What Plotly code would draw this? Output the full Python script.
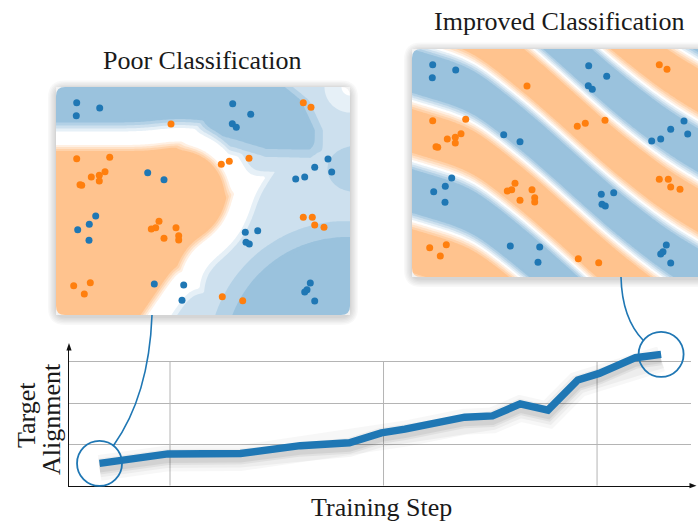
import numpy as np
import plotly.graph_objects as go

W, H = 698, 521

# ---- training curve ------------------------------------------------------
steps = [17, 44, 49, 83, 111, 134, 149, 160, 188, 201, 214, 227, 241, 251, 268, 280]
alignment = [0.54, 0.74, 0.77, 0.78, 0.97, 1.04, 1.28, 1.37, 1.66, 1.69,
             1.98, 1.83, 2.56, 2.72, 3.10, 3.18]

# ---- labelled samples shown in both decision-boundary panels ------------
blue_f1 = [20.7, 20.3, 43.7, 176.7, 194.7, 176.3, 180.3, 91.7, 108.0, 239.7,
           248.7, 258.7, 272.0, 275.7, 39.7, 33.3, 21.7, 33.0, 98.3, 127.7,
           126.0, 201.7, 189.3, 190.0, 193.3, 254.3, 251.0, 248.7, 258.7]
blue_f2 = [15.7, 28.7, 21.0, 16.7, 27.3, 36.7, 40.3, 85.7, 92.7, 92.0,
           90.0, 80.3, 72.0, 85.0, 129.0, 137.3, 142.7, 153.3, 197.0, 198.0,
           213.3, 143.7, 145.3, 155.3, 157.0, 196.0, 202.7, 205.0, 214.0]
orange_f1 = [247.3, 255.0, 115.0, 20.7, 53.7, 35.3, 43.3, 49.0, 43.3, 24.0,
             25.7, 165.3, 173.3, 193.0, 103.0, 99.7, 95.3, 120.0, 122.7, 122.7,
             108.0, 17.7, 34.3, 28.3, 247.3, 256.3, 258.7, 268.0, 166.3, 186.7]
orange_f2 = [15.7, 20.3, 37.0, 71.7, 70.3, 90.0, 88.3, 84.7, 94.0, 97.7,
             98.3, 77.3, 74.3, 71.3, 134.3, 140.7, 142.0, 140.7, 148.7, 153.0,
             151.3, 198.7, 195.7, 207.0, 130.3, 130.3, 138.0, 140.3, 209.7, 213.7]

F1_MAX, F2_MAX = 294.0, 228.0

# ---- page geometry (pixels) ---------------------------------------------
PLOT_L, PLOT_R, PLOT_T, PLOT_B = 69.0, 691.0, 347.0, 485.7
STEP_RANGE = [2.7, 294.0]
ALIGN_RANGE = [0.0, (PLOT_B - PLOT_T) / 41.3]
P1 = (56.0, 87.0)     # top-left corner of the "poor" panel
P2 = (412.0, 49.0)    # top-left corner of the "improved" panel
PW, PH = 294.0, 228.0
RAD = 9.0

BLUE = "#1f77b4"
ORANGE = "#ff7f0e"
SERIF = "Liberation Serif, DejaVu Serif, serif"


def pp(px, py):
    return px / W, 1 - py / H


def pstr(px, py):
    x, y = pp(px, py)
    return f"{x:.5f},{y:.5f}"


def step_px(s):
    return PLOT_L + (s - STEP_RANGE[0]) / (STEP_RANGE[1] - STEP_RANGE[0]) * (PLOT_R - PLOT_L)


def align_py(a):
    return PLOT_B - (a - ALIGN_RANGE[0]) / (ALIGN_RANGE[1] - ALIGN_RANGE[0]) * (PLOT_B - PLOT_T)


def rrect(x0, y0, x1, y1, r):
    return ("M" + pstr(x0 + r, y0) + " L" + pstr(x1 - r, y0) +
            " Q" + pstr(x1, y0) + " " + pstr(x1, y0 + r) +
            " L" + pstr(x1, y1 - r) + " Q" + pstr(x1, y1) + " " + pstr(x1 - r, y1) +
            " L" + pstr(x0 + r, y1) + " Q" + pstr(x0, y1) + " " + pstr(x0, y1 - r) +
            " L" + pstr(x0, y0 + r) + " Q" + pstr(x0, y0) + " " + pstr(x0 + r, y0) + " Z")


# ---- decision functions on a feature grid --------------------------------
gx = np.linspace(0, F1_MAX, 148)
gy = np.linspace(0, F2_MAX, 116)
X, Y = np.meshgrid(gx, gy)


def sig(t):
    return 1.0 / (1.0 + np.exp(-t))


def smooth_min(parts, k):
    stack = np.stack([-p / k for p in parts])
    m = stack.max(axis=0)
    return -k * (m + np.log(np.exp(stack - m).sum(axis=0)))


# poorly aligned kernel: one broad orange lobe (distance D to its edge),
# blue pockets elsewhere
d_box = np.maximum.reduce([57.0 - Y, X - 124.0, Y - 182.0])
d_round = np.hypot(X - 124.0, Y - 108.0) - 51.0
d_wedge = np.maximum(0.826 * (X - 175.0) + 0.564 * (Y - 108.0), 108.0 - Y)
D = smooth_min([d_box, d_round, d_wedge], 5.0)

top_edge = np.interp(X, [0, 144, 180, 210, 254, 262, 294], [45, 45, 55, 64, 65, 60, 60])
right_edge = np.interp(Y, [0, 13, 43, 65, 228], [231, 247, 261, 261, 261])
lobe = sig((top_edge - Y) / 2.5) * sig((right_edge - X) / 2.5)
lobe_halo = sig((top_edge + 10 - Y) / 2.5) * sig((right_edge + 10 - X) / 2.5)
rb = np.hypot(X - 290, Y - 272)
pocket = sig((124 - rb) / 2.5)
pocket_halo = sig((142 - rb) / 2.5)
side = sig((1 - ((X - 300) / 32) ** 2 - ((Y - 82) / 26) ** 2) * 8)
fade = np.clip(np.hypot(X - F1_MAX, Y) / 34.0, 0, 1)
strong = np.maximum.reduce([lobe, 0.6 * lobe_halo * fade, pocket, 0.6 * pocket_halo, 0.6 * side])
fast = np.clip((D - 11) / 15, 0, 1)
slow = np.clip((D - 16) / 24, 0, 1)
blue_side = np.maximum(np.minimum(strong, fast), np.minimum(0.4 * fade, slow))
z_poor = np.where(D < 0, -np.clip(-D / 10, 0, 1), blue_side)

# trained kernel: alternating diagonal bands
ridge_x = [0, 60, 120, 200, 255, 294]
ridge_y = [22, 40, 88, 160, 203, 226]
ridge = np.interp(gx, ridge_x, ridge_y)
ker = np.exp(-0.5 * (np.arange(-20, 21) * 2.0 / 16.0) ** 2)
ker /= ker.sum()
ridge = np.convolve(np.pad(ridge, 20, mode="reflect", reflect_type="odd"), ker, mode="valid")
z_good = np.clip(1.7 * np.cos(2 * np.pi * (Y - ridge[None, :]) / 120.0), -1, 1)


def tint(rgb, a):
    return "rgb(%d,%d,%d)" % tuple(round(255 - a * (255 - c)) for c in rgb)


cscale = []
for v in np.linspace(-1, 1, 11):
    if v < 0:
        cscale.append([(v + 1) / 2, tint((255, 127, 14), 0.47 * min(1.0, -v / 0.8))])
    else:
        cscale.append([(v + 1) / 2, tint((31, 119, 180), 0.45 * min(1.0, v / 0.8))])

fig = go.Figure()

# soft shadow under the curve
for w, a in [(26, 0.03), (19, 0.04), (13, 0.05), (9, 0.06)]:
    fig.add_trace(go.Scatter(x=steps, y=[v - 0.11 for v in alignment], mode="lines",
                             line=dict(color=f"rgba(0,0,0,{a})", width=w),
                             hoverinfo="skip", xaxis="x", yaxis="y"))
fig.add_trace(go.Scatter(x=steps, y=alignment, mode="lines",
                         line=dict(color=BLUE, width=7.5), xaxis="x", yaxis="y"))

for z, xa, ya in [(z_poor, "x2", "y2"), (z_good, "x3", "y3")]:
    fig.add_trace(go.Contour(x=gx, y=gy, z=z, xaxis=xa, yaxis=ya, colorscale=cscale,
                             autocontour=False, showscale=False, hoverinfo="skip",
                             contours=dict(start=-0.9, end=0.9, size=0.2,
                                           coloring="fill", showlines=False),
                             line=dict(width=0, smoothing=1.0)))
    fig.add_trace(go.Scatter(x=blue_f1, y=blue_f2, mode="markers", xaxis=xa, yaxis=ya,
                             marker=dict(size=7, color=BLUE)))
    fig.add_trace(go.Scatter(x=orange_f1, y=orange_f2, mode="markers", xaxis=xa, yaxis=ya,
                             marker=dict(size=7, color=ORANGE)))

shapes = []
# panel shadows
for (x0, y0) in [P1, P2]:
    for k in range(6):
        e = 1.0 + 1.4 * k
        shapes.append(dict(type="path", xref="paper", yref="paper", layer="below",
                           path=rrect(x0 - e, y0 - e + 1.5, x0 + PW + e, y0 + PH + e + 2.0, RAD + e),
                           fillcolor="rgba(0,0,0,0.028)", line=dict(width=0)))
# rounded panel corners
for (x0, y0) in [P1, P2]:
    x1, y1 = x0 + PW, y0 + PH
    for cx, cy, sx, sy in [(x0, y0, 1, 1), (x1, y0, -1, 1), (x0, y1, 1, -1), (x1, y1, -1, -1)]:
        if cx > W:
            continue
        path = ("M" + pstr(cx, cy) + " L" + pstr(cx + sx * RAD, cy) +
                " Q" + pstr(cx, cy) + " " + pstr(cx, cy + sy * RAD) + " Z")
        shapes.append(dict(type="path", xref="paper", yref="paper", layer="above",
                           path=path, fillcolor="rgb(242,242,242)", line=dict(width=0)))
# vertical grid lines stop at the top horizontal grid line
for g in [50, 150, 250]:
    shapes.append(dict(type="line", xref="x", yref="y", x0=g, x1=g, y0=0, y1=3,
                       line=dict(color="#b4b4b4", width=1), layer="below"))
# axis arrow heads
shapes.append(dict(type="path", xref="paper", yref="paper",
                   path="M" + pstr(PLOT_L, PLOT_T - 4) + " L" + pstr(PLOT_L - 2.6, PLOT_T + 3.5) +
                        " L" + pstr(PLOT_L + 2.6, PLOT_T + 3.5) + " Z",
                   fillcolor="#111", line=dict(width=0)))
shapes.append(dict(type="line", xref="paper", yref="paper",
                   x0=PLOT_R / W, x1=693 / W, y0=1 - PLOT_B / H, y1=1 - PLOT_B / H,
                   line=dict(color="#111", width=1.3)))
shapes.append(dict(type="path", xref="paper", yref="paper",
                   path="M" + pstr(696.5, PLOT_B) + " L" + pstr(689.5, PLOT_B - 2.6) +
                        " L" + pstr(689.5, PLOT_B + 2.6) + " Z",
                   fillcolor="#111", line=dict(width=0)))

# zoom circles on the first and last point, with leaders to the panels
CR = 22.5
sx0, sy0 = step_px(steps[0]), align_py(alignment[0])
sx1, sy1 = step_px(steps[-1]), align_py(alignment[-1])
for cx, cy in [(sx0, sy0), (sx1, sy1)]:
    shapes.append(dict(type="circle", xref="paper", yref="paper",
                       x0=(cx - CR) / W, x1=(cx + CR) / W,
                       y0=1 - (cy + CR) / H, y1=1 - (cy - CR) / H,
                       line=dict(color=BLUE, width=1.8), fillcolor="rgba(0,0,0,0)"))

a0 = np.radians(52)
e0 = (sx0 + CR * np.cos(a0), sy0 - CR * np.sin(a0))
b0 = (P1[0] + 96, P1[1] + PH)
shapes.append(dict(type="path", xref="paper", yref="paper",
                   path="M" + pstr(*b0) + " Q" + pstr(b0[0] - 3, e0[1] - 50) + " " + pstr(*e0),
                   line=dict(color=BLUE, width=1.6)))
a1 = np.radians(142)
e1 = (sx1 + CR * np.cos(a1), sy1 - CR * np.sin(a1))
b1 = (P2[0] + 209, P2[1] + PH)
shapes.append(dict(type="path", xref="paper", yref="paper",
                   path="M" + pstr(*b1) + " Q" + pstr(b1[0] + 1, e1[1] - 22) + " " + pstr(*e1),
                   line=dict(color=BLUE, width=1.6)))

font = dict(family=SERIF, size=26, color="#1a1a1a")
annotations = [
    dict(text="Poor Classification", x=(P1[0] + PW / 2) / W, y=1 - 60.5 / H),
    dict(text="Improved Classification", x=(P2[0] + PW / 2) / W, y=1 - 21.5 / H),
    dict(text="Training Step", x=381.5 / W, y=1 - 507.5 / H),
    dict(text="Target", x=26.0 / W, y=1 - 415 / H, textangle=-90),
    dict(text="Alignment", x=51.0 / W, y=1 - 419 / H, textangle=-90),
]
for a in annotations:
    a.update(xref="paper", yref="paper", showarrow=False, xanchor="center",
             yanchor="middle", font=font)

hidden = dict(visible=False, showgrid=False, zeroline=False)
fig.update_layout(
    width=W, height=H, margin=dict(l=0, r=0, t=0, b=0),
    paper_bgcolor="white", plot_bgcolor="rgba(0,0,0,0)", showlegend=False,
    xaxis=dict(domain=[PLOT_L / W, PLOT_R / W], range=STEP_RANGE, anchor="y",
               showgrid=False, zeroline=False, showline=True, linecolor="#111",
               linewidth=1.3, ticks="", showticklabels=False),
    yaxis=dict(domain=[1 - PLOT_B / H, 1 - PLOT_T / H], range=ALIGN_RANGE, anchor="x",
               tickvals=[1, 2, 3], showgrid=True, gridcolor="#b4b4b4", gridwidth=1,
               zeroline=False, showline=True, linecolor="#111", linewidth=1.3,
               ticks="", showticklabels=False),
    xaxis2=dict(domain=[P1[0] / W, (P1[0] + PW) / W], range=[0, F1_MAX], anchor="y2", **hidden),
    yaxis2=dict(domain=[1 - (P1[1] + PH) / H, 1 - P1[1] / H], range=[F2_MAX, 0], anchor="x2", **hidden),
    xaxis3=dict(domain=[P2[0] / W, 1.0], range=[0, W - P2[0]], anchor="y3", **hidden),
    yaxis3=dict(domain=[1 - (P2[1] + PH) / H, 1 - P2[1] / H], range=[F2_MAX, 0], anchor="x3", **hidden),
    shapes=shapes, annotations=annotations,
)

fig.write_html("out.html")
